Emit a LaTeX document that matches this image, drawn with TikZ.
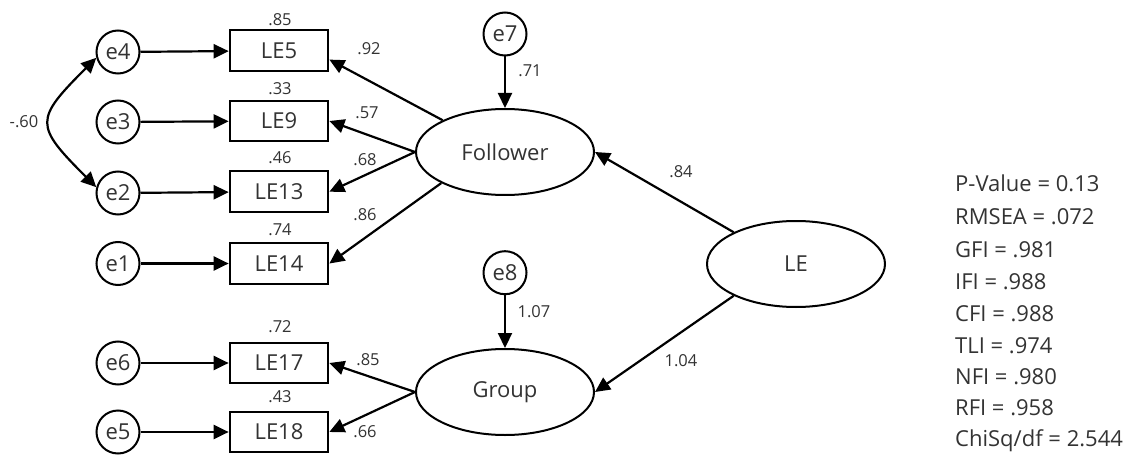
\documentclass[tikz,border=0pt]{standalone}
\usepackage{fontspec}
\setmainfont{Open Sans}
\usetikzlibrary{arrows.meta,shapes.geometric}
\definecolor{txt}{HTML}{333333}
\begin{document}
\begin{tikzpicture}[x=1pt,y=-1pt,
  every node/.style={text=txt, font=\fontsize{22}{26}\selectfont},
  err/.style={circle,draw=black,line width=2pt,minimum size=43pt,inner sep=0pt},
  obs/.style={rectangle,draw=black,line width=2pt,minimum width=98.7pt,minimum height=40.7pt,inner sep=0pt},
  lat/.style={ellipse,draw=black,line width=2pt,minimum width=178pt,minimum height=86pt,inner sep=0pt},
  coef/.style={font=\fontsize{16.5}{19}\selectfont, inner sep=0pt},
  pth/.style={line width=2.2pt,-{Triangle[length=15pt,width=14pt]}},
  stat/.style={anchor=base west,inner sep=0pt}
]
\useasboundingbox (0,0) rectangle (1137,457);
% error terms
\node[err] (e4) at (118,52) {e4};
\node[err] (e3) at (118,122) {e3};
\node[err] (e2) at (118,193) {e2};
\node[err] (e1) at (118,263.5) {e1};
\node[err] (e6) at (118,363) {e6};
\node[err] (e5) at (118,432) {e5};
% observed
\node[obs] (LE5) at (279,50.7) {LE5};
\node[obs] (LE9) at (279,121) {LE9};
\node[obs] (LE13) at (279,191.7) {LE13};
\node[obs] (LE14) at (279,263.5) {LE14};
\node[obs] (LE17) at (279,363) {LE17};
\node[obs] (LE18) at (279,432) {LE18};
% latent
\node[lat] (F) at (505,152) {Follower};
\node[lat] (G) at (505,392) {Group};
\node[lat] (LE) at (796,264) {LE};
\node[err] (e7) at (505,34) {e7};
\node[err] (e8) at (505,272.7) {e8};
% paths
\foreach \e/\b in {e4/LE5,e3/LE9,e2/LE13,e1/LE14,e6/LE17,e5/LE18}
  \draw[pth] (\e) -- (\b);
\draw[pth] (F.153) -- (LE5.-10);
\draw[pth] (F.west) -- (LE9.east);
\draw[pth] (F.west) -- (LE13.east);
\draw[pth] (F.206) -- (LE14.east);
\draw[pth] (G.west) -- (LE17.east);
\draw[pth] (G.west) -- (LE18.east);
\draw[pth] (e7) -- (F);
\draw[pth] (e8) -- (G);
\draw[pth] (LE.153) -- (F.east);
\draw[pth] (LE.207) -- (G.east);
\draw[line width=2.2pt,{Triangle[length=15pt,width=14pt]}-{Triangle[length=15pt,width=14pt]}]
  (e4.195) .. controls +(-62,62) and +(-62,-62) .. (e2.165);
% coefficients
\node[coef] (c1) at (280,20) {.85};
\node[coef] (c2) at (280,89) {.33};
\node[coef] (c3) at (280,158) {.46};
\node[coef] (c4) at (280,230) {.74};
\node[coef] (c5) at (280,326.7) {.72};
\node[coef] (c6) at (280,396.7) {.43};
\node[coef] (c7) at (369,49) {.92};
\node[coef] (c8) at (367,113) {.57};
\node[coef] (c9) at (365,160) {.68};
\node[coef] (c10) at (365,215) {.86};
\node[coef] (c11) at (368,360) {.85};
\node[coef] (c12) at (365,431.7) {.66};
\node[coef] (c13) at (24,122) {-.60};
\node[coef] (c14) at (530,71) {.71};
\node[coef] (c15) at (534,312) {1.07};
\node[coef] (c16) at (681,172) {.84};
\node[coef] (c17) at (681,360.7) {1.04};
% fit statistics
\node[stat] (s1) at (955,191.3) {P-Value = 0.13};
\node[stat] (s2) at (955,224.7) {RMSEA = .072};
\node[stat] (s3) at (955,257) {GFI = .981};
\node[stat] (s4) at (955,289) {IFI = .988};
\node[stat] (s5) at (955,321) {CFI = .988};
\node[stat] (s6) at (955,353) {TLI = .974};
\node[stat] (s7) at (955,384.7) {NFI = .980};
\node[stat] (s8) at (955,415) {RFI = .958};
\node[stat] (s9) at (955,446) {ChiSq/df = 2.544};
\end{tikzpicture}
\end{document}
